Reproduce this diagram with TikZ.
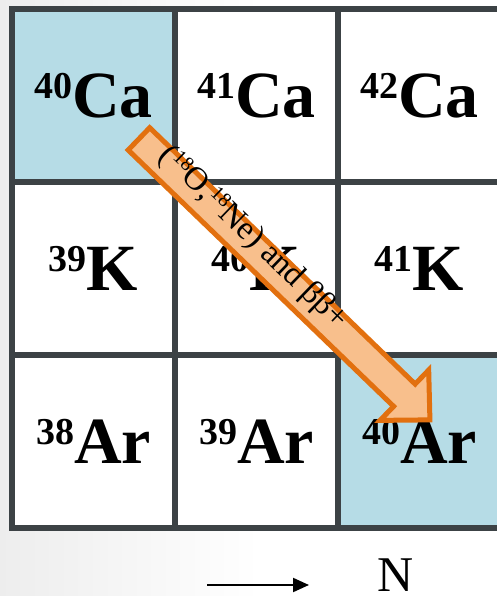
\documentclass[tikz,border=0pt]{standalone}
\usepackage{fontspec}
\setmainfont{Liberation Serif}
\usepackage{tikz}
\usetikzlibrary{arrows.meta}
\definecolor{gridline}{HTML}{3C4245}
\definecolor{cellblue}{HTML}{B6DCE6}
\definecolor{arrowfill}{HTML}{F8BF8C}
\definecolor{arroworange}{HTML}{E2700F}
\newcommand{\nucl}[3]{\raisebox{#3}{\fontsize{38}{38}\selectfont #1}#2}
\tikzset{
  every picture/.style={line join=round, line cap=round, >=Stealth},
  cellbox/.style={draw=gridline, line width=6pt, line join=miter, minimum width=163pt, minimum height=173pt, inner sep=0pt, font=\fontsize{66}{66}\selectfont\bfseries},
  bigarrow/.style={draw=arroworange, fill=arrowfill, line width=5pt, line join=miter},
  reaction/.style={inner sep=0pt, font=\fontsize{33}{33}\selectfont},
}

\begin{document}
\begin{tikzpicture}[x=1pt,y=1pt]
\useasboundingbox (0,0) rectangle (497,596);
\fill[white] (0,0) rectangle (497,596);
\shade[left color=black!7, right color=white] (0,0) rectangle (260,596);
\node[cellbox,fill=cellblue] (ca40) at (93.5,500.5) {\nucl{40}{Ca}{19pt}};
\node[cellbox,fill=white] (ca41) at (256.5,500.5) {\nucl{41}{Ca}{19pt}};
\node[cellbox,fill=white] (ca42) at (419.5,500.5) {\nucl{42}{Ca}{19pt}};
\node[cellbox,fill=white] (k39) at (93.5,327.5) {\nucl{39}{K}{19pt}};
\node[cellbox,fill=white] (k40) at (256.5,327.5) {\nucl{40}{K}{19pt}};
\node[cellbox,fill=white] (k41) at (419.5,327.5) {\nucl{41}{K}{19pt}};
\node[cellbox,fill=white] (ar38) at (93.5,154.5) {\nucl{38}{Ar}{19pt}};
\node[cellbox,fill=white] (ar39) at (256.5,154.5) {\nucl{39}{Ar}{19pt}};
\node[cellbox,fill=cellblue] (ar40) at (419.5,154.5) {\nucl{40}{Ar}{19pt}};
\coordinate (tail) at (137.5,458.5);
\begin{scope}[shift={(tail)},rotate=-44]
\draw[bigarrow] (2,15.5) -- (371,15.5) -- (371,35) -- (406.5,0) -- (371,-35) -- (371,-15.5) -- (2,-15.5) -- cycle;
\node[reaction,transform shape] (rlabel) at (153,8) {(\raisebox{9pt}{\fontsize{20}{20}\selectfont 18}O,\raisebox{9pt}{\fontsize{20}{20}\selectfont 18}Ne) and ββ+};
\end{scope}
\coordinate (nstart) at (207,11);
\coordinate (nend) at (309,11);
\draw[-{Triangle[length=16pt,width=14pt]},line width=2pt,line cap=butt] (nstart) -- (nend);
\node[inner sep=0pt,font=\fontsize{50}{50}\selectfont] (nlabel) at (396,20.5) {N};
\end{tikzpicture}
\end{document}
